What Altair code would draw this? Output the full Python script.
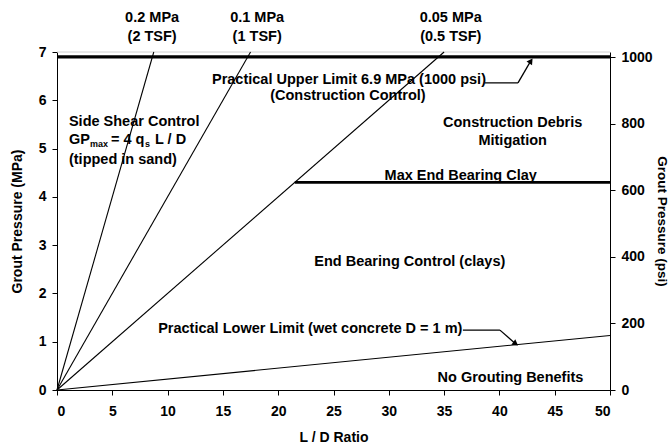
import altair as alt
import pandas as pd

FONT = "Liberation Sans"
MPA_TO_PSI = 145.0377

# ---- data ----
ld_max = 50
gp_max = 7
x_ticks = [0, 5, 10, 15, 20, 25, 30, 35, 40, 45, 50]
y_ticks = [0, 1, 2, 3, 4, 5, 6, 7]
psi_ticks = [0, 200, 400, 600, 800, 1000]

shear_qs = ["0.2 MPa", "0.1 MPa", "0.05 MPa"]
shear_tsf = ["(2 TSF)", "(1 TSF)", "(0.5 TSF)"]
shear_end_ld = [8.75, 17.5, 35.0]
shear_end_gp = [7.0, 7.0, 7.0]
shear_label_ld = [8.6, 18.1, 35.6]

upper_limit_gp = 6.9
clay_limit_gp = 4.3
clay_limit_start_ld = 21.5
lower_limit_end_gp = 1.13

# annotation texts (centered)
center_text = ["Practical Upper Limit 6.9 MPa (1000 psi)", "(Construction Control)",
               "Construction Debris", "Mitigation", "Max End Bearing Clay",
               "End Bearing Control (clays)",
               "Practical Lower Limit (wet concrete D = 1 m)", "No Grouting Benefits"]
center_ld = [26.4, 26.3, 41.2, 41.2, 36.5, 31.9, 22.9, 41.0]
center_gp = [6.42, 6.08, 5.53, 5.16, 4.43, 2.65, 1.26, 0.25]

left_text = ["Side Shear Control", "(tipped in sand)"]
left_ld = [1.08, 1.08]
left_gp = [5.55, 4.76]

# leader lines of the two arrows
leader_x = [38.7, 41.68, 36.7, 40.05]
leader_y = [6.36, 6.36, 1.24, 1.24]
leader_x2 = [41.68, 42.8, 40.05, 41.4]
leader_y2 = [6.36, 6.8, 1.24, 0.97]
head_ld = [42.8, 41.4]
head_gp = [6.8, 0.97]
head_angle = [34, 126]

# ---- tables ----
seg = pd.DataFrame({
    "x": [0, 0, 0] + [0, clay_limit_start_ld, 0] + leader_x,
    "y": [0, 0, 0] + [upper_limit_gp, clay_limit_gp, 0] + leader_y,
    "x2": shear_end_ld + [ld_max, ld_max, ld_max] + leader_x2,
    "y2": shear_end_gp + [upper_limit_gp, clay_limit_gp, lower_limit_end_gp] + leader_y2,
    "w": [1.1, 1.1, 1.1, 3.2, 2.6, 1.1, 1.3, 1.3, 1.3, 1.3],
})
top_lbl = pd.DataFrame({
    "t": shear_qs + shear_tsf,
    "x": shear_label_ld + shear_label_ld,
    "y": [7.70] * 3 + [7.31] * 3,
})
ctr = pd.DataFrame({"t": center_text, "x": center_ld, "y": center_gp})
lft = pd.DataFrame({"t": left_text, "x": left_ld, "y": left_gp})
heads = pd.DataFrame({"x": head_ld, "y": head_gp, "a": head_angle})
psi_df = pd.DataFrame({"p": psi_ticks})

axis_common = dict(labelFont=FONT, labelFontSize=14, labelFontWeight="bold", labelColor="black",
                   titleFont=FONT, titleFontSize=14, titleFontWeight="bold", titleColor="black",
                   domainColor="black", tickColor="black", tickSize=5, grid=False)

X = alt.X("x:Q", scale=alt.Scale(domain=[0, ld_max], nice=False, zero=False),
          axis=alt.Axis(values=x_ticks, title="L / D Ratio", labelPadding=9, titlePadding=12, **axis_common))
Y = alt.Y("y:Q", scale=alt.Scale(domain=[0, gp_max], nice=False, zero=False),
          axis=alt.Axis(values=y_ticks, title="Grout Pressure (MPa)", labelPadding=6, titlePadding=14, **axis_common))

lines = alt.Chart(seg).mark_rule(color="black").encode(
    x=X, y=Y, x2="x2:Q", y2="y2:Q", strokeWidth=alt.StrokeWidth("w:Q", scale=None))

topborder = alt.Chart(pd.DataFrame({"x": [0], "y": [gp_max], "x2": [ld_max]})).mark_rule(
    color="#d0d0d0", strokeWidth=1).encode(x=X, y=Y, x2="x2:Q")

arrow_heads = alt.Chart(heads).mark_point(shape="triangle", filled=True, size=45, color="black", opacity=1).encode(
    x=X, y=Y, angle=alt.Angle("a:Q", scale=None))

text_style = dict(font=FONT, fontSize=14.5, fontWeight="bold", color="black", baseline="middle")
t_top = alt.Chart(top_lbl).mark_text(align="center", **text_style).encode(x=X, y=Y, text="t:N")
t_ctr = alt.Chart(ctr).mark_text(align="center", **text_style).encode(x=X, y=Y, text="t:N")
t_lft = alt.Chart(lft).mark_text(align="left", **text_style).encode(x=X, y=Y, text="t:N")

# GP_max = 4 q_s L / D, built from pieces
gp_pieces = ["GP", "max", "= 4 q", "s", "L / D"]
gp_dx = [0, 21, 42, 76, 86]
gp_size = [14.5, 9, 14.5, 9, 14.5]
gp_dy = [0, 4, 0, 4, 0]
gp_layers = []
for t, dx, fs, dy in zip(gp_pieces, gp_dx, gp_size, gp_dy):
    d = pd.DataFrame({"t": [t], "x": [1.08], "y": [5.18]})
    gp_layers.append(alt.Chart(d).mark_text(align="left", font=FONT, fontSize=fs, fontWeight="bold",
                                            color="black", baseline="middle", dx=dx, dy=dy)
                     .encode(x=X, y=Y, text="t:N"))

main = alt.layer(topborder, lines, arrow_heads, t_top, t_ctr, t_lft, *gp_layers)

right_axis = dict(axis_common)
right_axis["titleFontSize"] = 13.5
right = alt.Chart(psi_df).mark_point(opacity=0).encode(
    y=alt.Y("p:Q", scale=alt.Scale(domain=[0, gp_max * MPA_TO_PSI], nice=False, zero=False),
            axis=alt.Axis(orient="right", values=psi_ticks, format="d", title="Grout Pressure (psi)",
                          labelPadding=6, titlePadding=2, **right_axis)))

chart = alt.layer(main, right).resolve_scale(y="independent").properties(
    width=553, height=338,
    autosize=alt.AutoSizeParams(type="none"),
    padding={"left": 57, "top": 52, "right": 61, "bottom": 54},
    background="white",
).configure_view(stroke=None)

chart.save("out.html", embed_options={"renderer": "svg", "actions": False})
